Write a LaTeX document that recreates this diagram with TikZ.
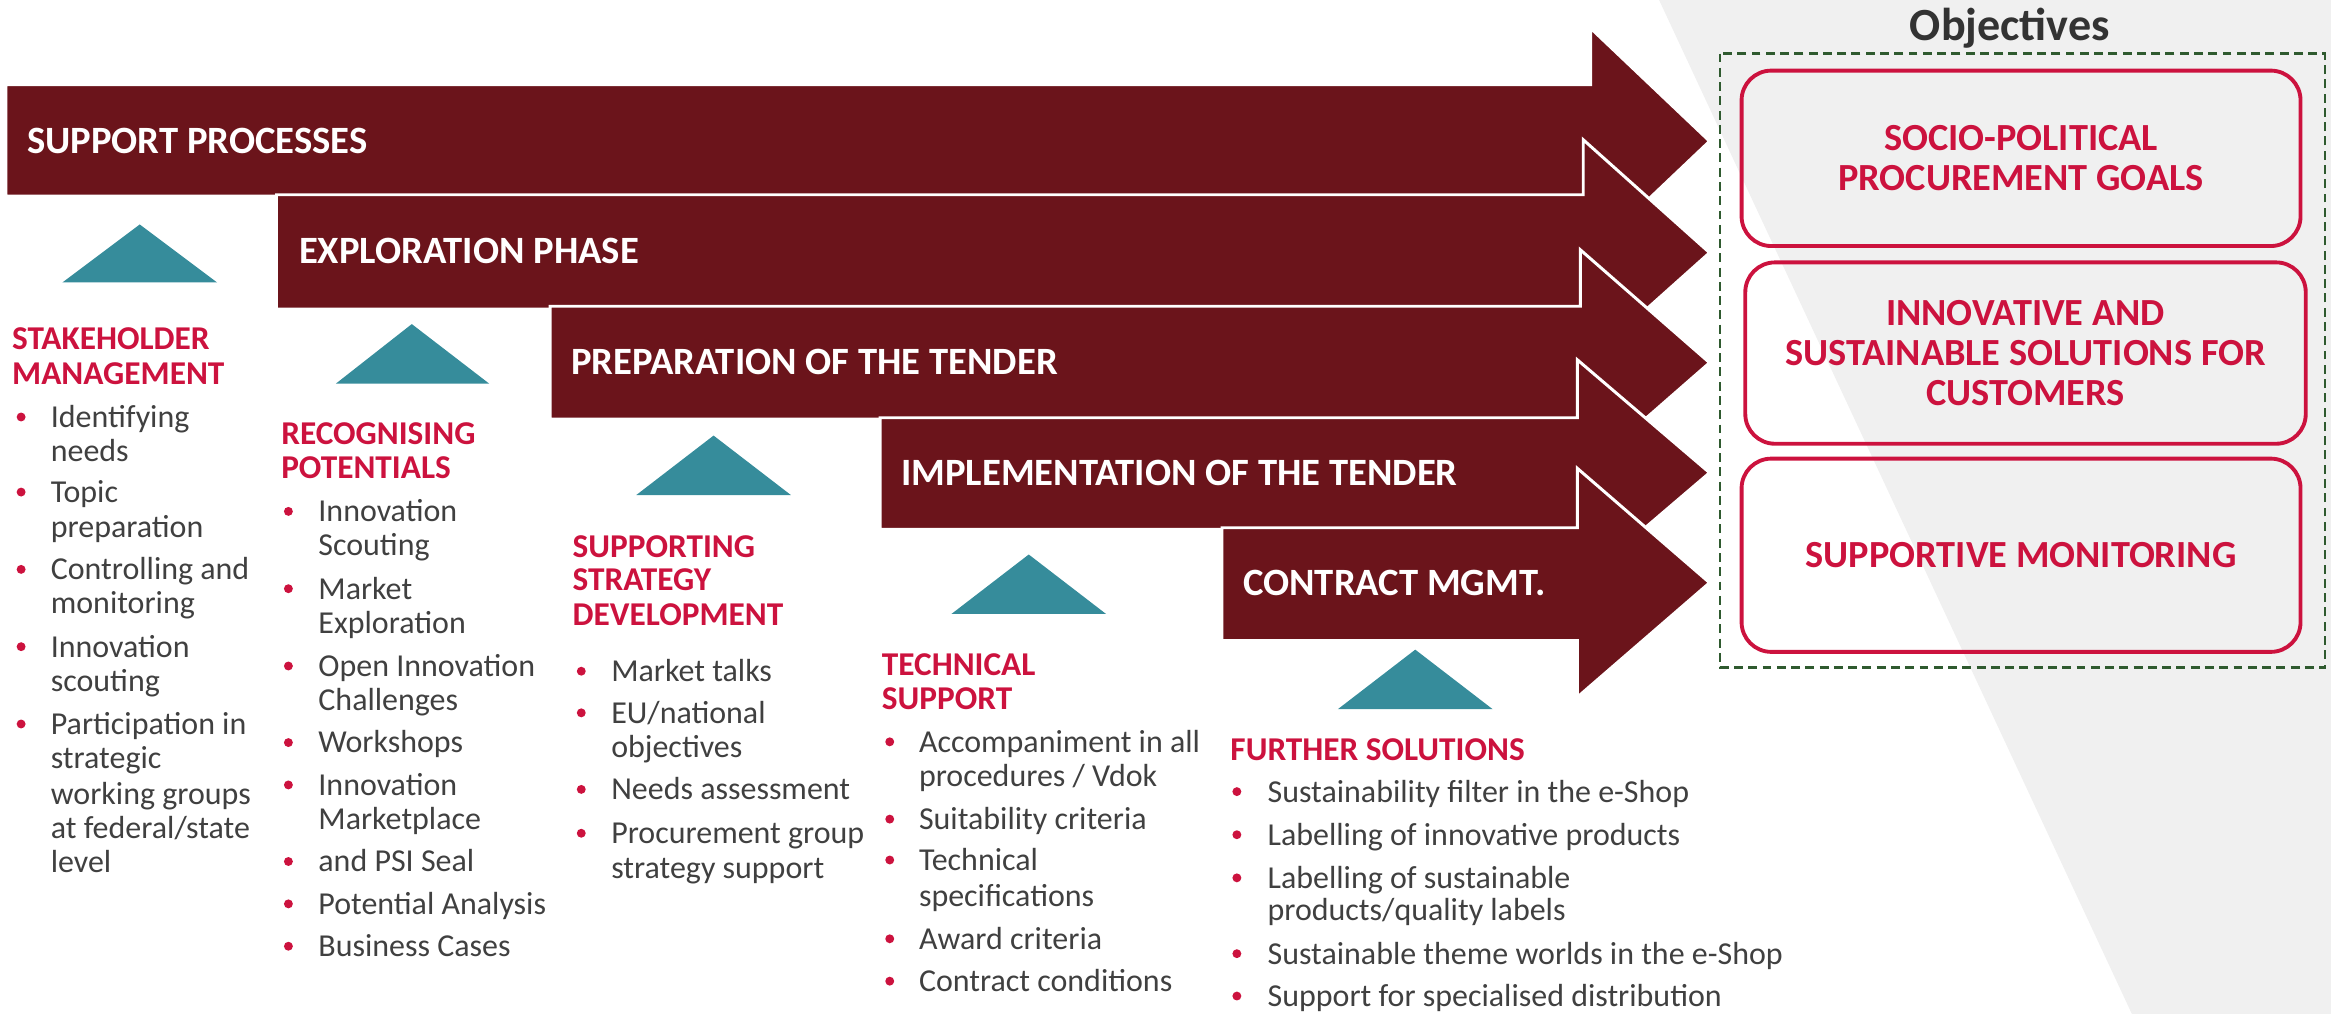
\documentclass[tikz,border=0pt]{standalone}
\usepackage{fontspec}
\setmainfont{Carlito}
\definecolor{maroon}{RGB}{107,20,27}
\definecolor{tealtri}{RGB}{54,140,155}
\definecolor{accred}{RGB}{204,18,62}
\definecolor{bodygrey}{RGB}{64,64,64}
\definecolor{titlegrey}{RGB}{51,51,51}
\definecolor{dashgreen}{RGB}{47,90,47}
\definecolor{bggrey}{RGB}{240,240,240}
\tikzset{
  procarrow/.style={fill=maroon, draw=white, line width=2pt, line join=miter},
  tri/.style={fill=tealtri},
  arrowlabel/.style={text=white, font=\fontsize{26}{28}\selectfont\bfseries, anchor=base west, inner sep=0pt},
  colhead/.style={text=accred, font=\fontsize{22.4}{24}\selectfont\bfseries, anchor=base west, inner sep=0pt},
  itemline/.style={text=bodygrey, font=\fontsize{21.5}{24}\selectfont, anchor=base west, inner sep=0pt},
  bulletdot/.style={fill=accred},
  objbox/.style={draw=accred, line width=2.6pt, rounded corners=20pt, text=accred,
     font=\fontsize{25.8}{27}\selectfont\bfseries, align=center, inner sep=0pt},
  dashframe/.style={draw=dashgreen, line width=1.8pt, dash pattern=on 6pt off 3.6pt},
  objtitle/.style={text=titlegrey, font=\fontsize{31}{32}\selectfont\bfseries, anchor=base, inner sep=0pt}
}
\newcommand\procarrowpath[7]{%
  \filldraw[procarrow] (#1,#2) -- (#4,#2) -- (#4,#5) -- (1150,#7) -- (#4,#6) -- (#4,#3) -- (#1,#3) -- cycle;}
\begin{document}
\begin{tikzpicture}[x=1pt,y=-1pt]
\useasboundingbox (0,0) rectangle (1568,682);
% grey background wedge
\fill[bggrey] (1116,0) -- (1568,0) -- (1568,682) -- (1434,682) -- cycle;

% process arrows
\procarrowpath{4}{57}{132}{1070}{19}{171}{95}
\procarrowpath{186}{131}{208}{1065}{94}{246}{170}
\procarrowpath{370}{206}{282}{1063}{168}{320}{244}
\procarrowpath{592}{281}{356}{1061}{242}{394}{318}
\procarrowpath{822}{355}{431}{1061}{315}{469}{392}

\node[arrowlabel] (a1) at (18,103) {SUPPORT PROCESSES};
\node[arrowlabel] (a2) at (201,177.5) {EXPLORATION PHASE};
\node[arrowlabel] (a3) at (384,252) {PREPARATION OF THE TENDER};
\node[arrowlabel] (a4) at (606,326.5) {IMPLEMENTATION OF THE TENDER};
\node[arrowlabel] (a5) at (836,400.5) {CONTRACT MGMT.};

% teal triangles
\fill[tri] (42,190) -- (94,151) -- (146,190) -- cycle;
\fill[tri] (226,258) -- (277,218) -- (329,258) -- cycle;
\fill[tri] (428,333) -- (480,293) -- (532,333) -- cycle;
\fill[tri] (640,413) -- (692,373) -- (744,413) -- cycle;
\fill[tri] (900,477) -- (952,437) -- (1004,477) -- cycle;

% objectives
\node[objtitle] (objt) at (1352,27.5) {Objectives};
\draw[dashframe] (1157,36) rectangle (1564,449);
\node[objbox, minimum width=376pt, minimum height=118pt] (o1) at (1359.5,106.5) {SOCIO-POLITICAL\\PROCUREMENT GOALS};
\node[objbox, minimum width=377pt, minimum height=122pt] (o2) at (1362.5,237.5) {INNOVATIVE AND\\SUSTAINABLE SOLUTIONS FOR\\CUSTOMERS};
\node[objbox, minimum width=376pt, minimum height=130pt] (o3) at (1359.5,373.5) {SUPPORTIVE MONITORING};

% column 1
\node[colhead] (h1a) at (8,235) {STAKEHOLDER};
\node[colhead] (h1b) at (8,258.5) {MANAGEMENT};
\foreach \yy/\mytext [count=\n] in {287.5/Identifying, 310.5/needs, 338/Topic, 361.5/preparation,
   390/Controlling and, 413/monitoring, 442/Innovation, 465/scouting, 494/Participation in,
   517/strategic, 541/working groups, 564/{at federal/state}, 587/level}
  \node[itemline] (c1l\n) at (34,\yy) {\mytext};
\foreach \yy in {287.5,338,390,442,494} \fill[bulletdot] (14.2,\yy-7) circle (3);

% column 2
\node[colhead] (h2a) at (189,299) {RECOGNISING};
\node[colhead] (h2b) at (189,322) {POTENTIALS};
\foreach \yy/\mytext [count=\n] in {351/Innovation, 374/Scouting, 403/Market, 426/Exploration,
   455/Open Innovation, 478/Challenges, 506.5/Workshops, 535/Innovation, 558/Marketplace,
   586.5/and PSI Seal, 615/Potential Analysis, 643.5/Business Cases}
  \node[itemline] (c2l\n) at (214,\yy) {\mytext};
\foreach \yy in {351,403,455,506.5,535,586.5,615,643.5} \fill[bulletdot] (194,\yy-7) circle (3);

% column 3
\node[colhead] (h3a) at (385,375) {SUPPORTING};
\node[colhead] (h3b) at (385,397.5) {STRATEGY};
\node[colhead] (h3c) at (385,420.5) {DEVELOPMENT};
\foreach \yy/\mytext [count=\n] in {458.5/Market talks, 486.5/{EU/national}, 509.5/objectives,
   538/Needs assessment, 567.5/Procurement group, 591/strategy support}
  \node[itemline] (c3l\n) at (411,\yy) {\mytext};
\foreach \yy in {458.5,486.5,538,567.5} \fill[bulletdot] (391,\yy-7) circle (3);

% column 4
\node[colhead] (h4a) at (593,454.5) {TECHNICAL};
\node[colhead] (h4b) at (593,477.5) {SUPPORT};
\foreach \yy/\mytext [count=\n] in {506/Accompaniment in all, 529/{procedures / Vdok},
   558/Suitability criteria, 585.5/Technical, 609.5/specifications, 638.5/Award criteria,
   667/Contract conditions}
  \node[itemline] (c4l\n) at (618,\yy) {\mytext};
\foreach \yy in {506,558,585.5,638.5,667} \fill[bulletdot] (598.5,\yy-7) circle (3);

% column 5
\node[colhead] (h5a) at (827.5,511.5) {FURTHER SOLUTIONS};
\foreach \yy/\mytext [count=\n] in {539.5/Sustainability filter in the e-Shop,
   568.5/Labelling of innovative products, 597.5/Labelling of sustainable,
   619.5/{products/quality labels}, 648.5/Sustainable theme worlds in the e-Shop,
   677/Support for specialised distribution}
  \node[itemline] (c5l\n) at (852.5,\yy) {\mytext};
\foreach \yy in {539.5,568.5,597.5,648.5,677} \fill[bulletdot] (832,\yy-7) circle (3);
\end{tikzpicture}
\end{document}
